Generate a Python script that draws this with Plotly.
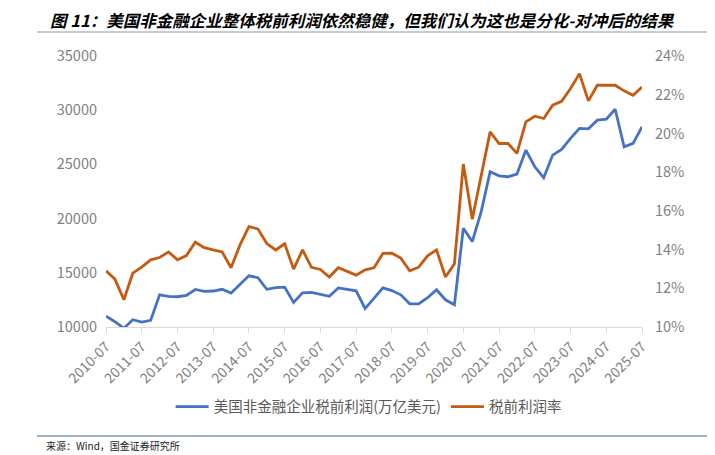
import plotly.graph_objects as go

# quarterly, 2010-07 .. 2025-07
quarters = [f"{y}-{m:02d}" for y in range(2010, 2026) for m in (1, 4, 7, 10)]
quarters = quarters[2:quarters.index("2025-07") + 1]

profit = [
    11000, 10490, 9880, 10670, 10460, 10610, 12960, 12820, 12790, 12910,
    13460, 13280, 13320, 13480, 13130, 13920, 14720, 14550, 13480, 13640,
    13680, 12260, 13150, 13200, 13010, 12830, 13600, 13480, 13340, 11700,
    12630, 13610, 13360, 12970, 12140, 12140, 12700, 13430, 12510, 12050,
    19110, 17880, 20640, 24320, 23950, 23860, 24100, 26320, 24780, 23770,
    25860, 26380, 27400, 28320, 28280, 29080, 29170, 30090, 26620, 26940,
    28470,
]

margin = [
    12.90, 12.47, 11.41, 12.78, 13.09, 13.47, 13.59, 13.88, 13.47, 13.69,
    14.38, 14.10, 13.98, 13.88, 13.06, 14.24, 15.18, 15.07, 14.31, 13.98,
    14.30, 12.99, 13.98, 13.08, 12.97, 12.58, 13.06, 12.87, 12.68, 12.95,
    13.06, 13.80, 13.81, 13.56, 12.90, 13.09, 13.68, 13.98, 12.58, 13.26,
    18.42, 15.57, 17.76, 20.08, 19.48, 19.48, 18.97, 20.60, 20.89, 20.77,
    21.46, 21.66, 22.32, 23.09, 21.68, 22.49, 22.49, 22.49, 22.20, 21.97,
    22.40,
]

tick_labels = quarters[::4]

FONT = "Noto Sans CJK SC"
GRAY = "#7f7f7f"

# the page body adds an 8px offset, so the figure is laid out 8px up/left
OFF = 8


# plot area in screen pixels: x 106..642, y 56..327.3
def px_x(x):
    return (x - 106) / 536


def px_y(y):
    return (327.3 - y) / 271.3


fig = go.Figure()

fig.add_trace(go.Scatter(
    x=quarters, y=profit, mode="lines",
    name="美国非金融企业税前利润(万亿美元)",
    line=dict(color="#4472C4", width=2.8),
))
fig.add_trace(go.Scatter(
    x=quarters, y=margin, mode="lines", yaxis="y2",
    name="税前利润率",
    line=dict(color="#C55A11", width=2.8),
))

fig.update_layout(
    width=715, height=455,
    margin=dict(l=106 - OFF, r=715 - 642 + OFF, t=56 - OFF, b=455 - 327.3 + OFF,
                autoexpand=False),
    plot_bgcolor="white", paper_bgcolor="white",
    font=dict(family=FONT, color=GRAY),
    showlegend=True,
    legend=dict(
        orientation="h", x=0.49, xanchor="center", y=px_y(407), yanchor="middle",
        font=dict(size=14.5, color="#595959"), itemwidth=33,
    ),
    xaxis=dict(
        type="category", range=[0, len(quarters) - 1],
        tickvals=tick_labels, ticktext=tick_labels, tickangle=-45,
        tickfont=dict(size=14, color=GRAY),
        showgrid=False, showline=True, linecolor="#d9d9d9", linewidth=1,
        ticks="outside", ticklen=5, tickcolor="#d9d9d9",
    ),
    yaxis=dict(
        range=[10000, 35000], dtick=5000, tickformat="d",
        tickfont=dict(size=14.5, color=GRAY), showgrid=False, zeroline=False,
        ticklabelstandoff=8,
    ),
    yaxis2=dict(
        overlaying="y", side="right", range=[10, 24], dtick=2, ticksuffix="%",
        tickfont=dict(size=14.5, color=GRAY), showgrid=False, zeroline=False,
        ticklabelstandoff=12,
    ),
    annotations=[
        dict(
            text="<b>图 11：美国非金融企业整体税前利润依然稳健，但我们认为这也是分化-对冲后的结果</b>",
            xref="paper", yref="paper", x=px_x(48), y=px_y(20),
            xanchor="left", yanchor="middle", showarrow=False,
            font=dict(family=FONT, size=16.5, color="black", style="italic"),
        ),
        dict(
            text="来源：Wind，国金证券研究所",
            xref="paper", yref="paper", x=px_x(44), y=px_y(446),
            xanchor="left", yanchor="middle", showarrow=False,
            font=dict(family=FONT, size=10, color="#222222"),
        ),
    ],
    shapes=[
        dict(type="line", xref="paper", yref="paper",
             x0=px_x(37), x1=px_x(710), y0=px_y(32), y1=px_y(32),
             line=dict(color="#a9bfcf", width=1.5)),
        dict(type="line", xref="paper", yref="paper",
             x0=px_x(37), x1=px_x(710), y0=px_y(436.5), y1=px_y(436.5),
             line=dict(color="#7f9bb0", width=1.5)),
    ],
)

fig.write_html("out.html")
